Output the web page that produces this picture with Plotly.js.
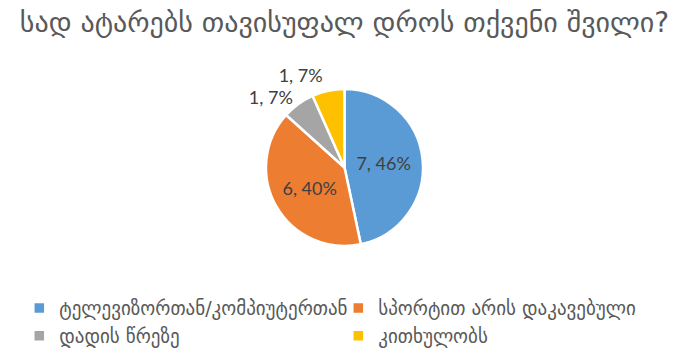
<!DOCTYPE html>
<html><head><meta charset="utf-8">
<script src="https://cdn.plot.ly/plotly-3.0.1.min.js"></script>
<style>html,body{margin:0;padding:0;background:#fff}#chart{width:689px;height:363px}
path.textline{stroke-opacity:0 !important}</style>
</head><body><div id="chart"></div>
<script>
const categories = ["ტელევიზორთან/კომპიუტერთან", "სპორტით არის დაკავებული", "დადის წრეზე", "კითხულობს"];
const values = [7, 6, 1, 1];
const percentLabels = ["46%", "40%", "7%", "7%"];
const colors = ["#5B9BD5", "#ED7D31", "#A5A5A5", "#FFC000"];
const titleText = "სად ატარებს თავისუფალ დროს თქვენი შვილი?";

const trace = {
  type: 'pie',
  labels: categories,
  values: values,
  text: values.map((v, i) => v + ", " + percentLabels[i]),
  textinfo: 'text',
  textposition: ['inside', 'inside', 'outside', 'outside'],
  insidetextorientation: 'horizontal',
  sort: false,
  direction: 'clockwise',
  rotation: 0,
  marker: {colors: colors, line: {color: '#ffffff', width: 2.5}},
  insidetextfont: {family: 'Lato, "Open Sans", sans-serif', size: 18, color: '#404040'},
  outsidetextfont: {family: 'Lato, "Open Sans", sans-serif', size: 18, color: '#404040'},
  hoverinfo: 'label+value'
};

const layout = {
  width: 689, height: 363,
  margin: {l: 0, r: 0, t: 89, b: 117},
  paper_bgcolor: '#ffffff',
  title: {text: titleText, font: {family: '"DejaVu Sans", sans-serif', size: 28, color: '#595959'}, x: 0.5, xanchor: 'center', y: 0.94, yanchor: 'middle'},
  showlegend: true,
  legend: {orientation: 'h', x: 0.028, xanchor: 'left', y: -0.275, yanchor: 'top',
    entrywidth: 274, entrywidthmode: 'pixels',
    font: {family: '"DejaVu Sans", sans-serif', size: 19, color: '#595959'}, traceorder: 'normal'}
};

Plotly.newPlot('chart', [trace], layout, {displayModeBar: false, staticPlot: true});
</script></body></html>
